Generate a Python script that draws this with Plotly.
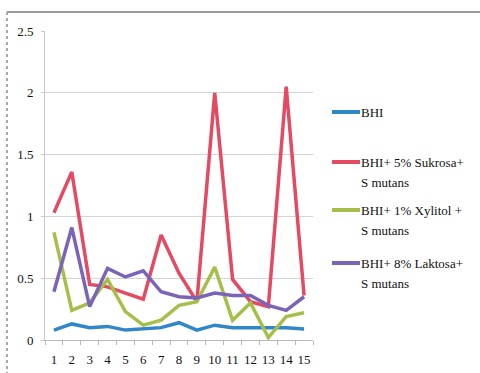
import plotly.graph_objects as go

# Sample numbers along the x axis
samples = [str(i) for i in range(1, 16)]

# Measured values per medium
bhi = [0.08, 0.13, 0.10, 0.11, 0.08, 0.09, 0.10, 0.14, 0.08, 0.12, 0.10, 0.10, 0.10, 0.10, 0.09]
sukrosa = [1.03, 1.36, 0.45, 0.43, 0.38, 0.33, 0.85, 0.54, 0.31, 2.00, 0.49, 0.31, 0.27, 2.05, 0.36]
xylitol = [0.87, 0.24, 0.30, 0.49, 0.23, 0.12, 0.16, 0.28, 0.31, 0.59, 0.16, 0.30, 0.02, 0.19, 0.22]
laktosa = [0.39, 0.91, 0.27, 0.58, 0.51, 0.56, 0.39, 0.35, 0.34, 0.38, 0.36, 0.36, 0.28, 0.24, 0.35]

series_names = ["BHI", "BHI+ 5% Sukrosa+", "BHI+ 1% Xylitol +", "BHI+ 8% Laktosa+"]
series_sub = ["", "S mutans", "S mutans", "S mutans"]
series_colors = ["#2f86c8", "#e44a62", "#a5bf4a", "#7b64b8"]
y_ticks = [0, 0.5, 1, 1.5, 2, 2.5]
y_tick_text = ["0", "0.5", "1", "1.5", "2", "2.5"]

fig = go.Figure()
for name, vals, col in zip(series_names, [bhi, sukrosa, xylitol, laktosa], series_colors):
    fig.add_trace(go.Scatter(
        x=samples, y=vals, mode="lines", name=name,
        line=dict(color=col, width=3.5), showlegend=False,
    ))

FONT = "Times New Roman"
TEXT = "#111"

fig.update_layout(
    width=480, height=373,
    margin=dict(l=45, r=167, t=31, b=33),
    paper_bgcolor="white", plot_bgcolor="white",
    font=dict(family=FONT, size=13, color=TEXT),
    xaxis=dict(
        type="category", categoryorder="array", categoryarray=samples,
        range=[-0.5, 14.5],
        showgrid=False, showline=True, linecolor="#b8b8b8", linewidth=1,
        ticks="outside", ticklen=4, tickcolor="#b8b8b8", tickson="boundaries",
        tickfont=dict(family=FONT, size=13, color=TEXT), tickangle=0,
        ticklabelstandoff=7, zeroline=False, automargin=False,
    ),
    yaxis=dict(
        range=[0, 2.5], tickvals=y_ticks, ticktext=y_tick_text,
        showgrid=True, gridcolor="#d4d4d4", gridwidth=1,
        showline=True, linecolor="#c8c8c8", linewidth=1,
        ticks="outside", ticklen=3, tickcolor="#c8c8c8",
        tickfont=dict(family=FONT, size=13, color=TEXT),
        ticklabelstandoff=5, zeroline=False, automargin=False,
    ),
)

# Outer chart frame (top and left edges)
fig.add_shape(type="line", xref="paper", yref="paper", x0=-0.142, x1=1.63,
              y0=1.0615, y1=1.0615, line=dict(color="#9a9a9a", width=2))
fig.add_shape(type="line", xref="paper", yref="paper", x0=-0.142, x1=-0.142,
              y0=1.0615, y1=-0.12, line=dict(color="#a8a8a8", width=2, dash="dot"))

# Legend: swatch plus wrapped label for each series
def py(pixel_y):
    return (340 - pixel_y) / 309

def px(pixel_x):
    return (pixel_x - 45) / 268

rows = [(112, None), (162, 182), (210, 230), (263, 283)]
for (y1, y2), name, sub, col in zip(rows, series_names, series_sub, series_colors):
    fig.add_shape(type="line", xref="paper", yref="paper",
                  x0=px(332), x1=px(360), y0=py(y1), y1=py(y1),
                  line=dict(color=col, width=4))
    fig.add_annotation(xref="paper", yref="paper", x=px(359), y=py(y1),
                       xanchor="left", yanchor="middle", text=name, showarrow=False,
                       font=dict(family=FONT, size=13, color=TEXT))
    if y2 is not None:
        fig.add_annotation(xref="paper", yref="paper", x=px(359), y=py(y2),
                           xanchor="left", yanchor="middle", text=sub, showarrow=False,
                           font=dict(family=FONT, size=13, color=TEXT))

fig.write_html("out.html")
